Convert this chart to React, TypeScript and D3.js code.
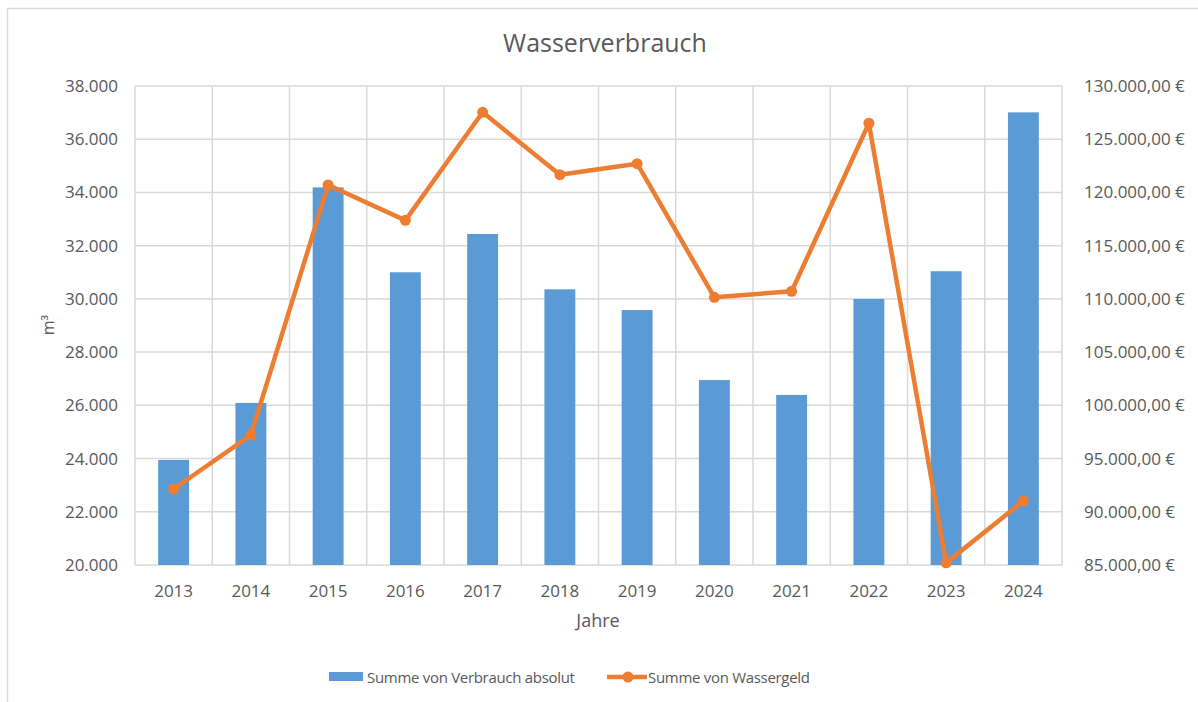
import React from "react";
import * as d3 from "d3";

// Jahre / Verbrauch (m³) / Wassergeld (€)
const years = ["2013", "2014", "2015", "2016", "2017", "2018", "2019", "2020", "2021", "2022", "2023", "2024"];
const verbrauch = [23950, 26090, 34190, 31000, 32440, 30360, 29580, 26950, 26390, 30000, 31040, 37010];
const wassergeld = [92140, 97210, 120700, 117380, 127530, 121670, 122700, 110150, 110710, 126500, 85200, 91010];
const leftTicks = [20000, 22000, 24000, 26000, 28000, 30000, 32000, 34000, 36000, 38000];
const rightTicks = [85000, 90000, 95000, 100000, 105000, 110000, 115000, 120000, 125000, 130000];

const W = 1198;
const H = 702;
const plot = { left: 135, right: 1062, top: 86, bottom: 565 };
const font = "'Open Sans', 'Noto Sans', sans-serif";
const txt = "#595959";
const grid = "#d9d9d9";
const blue = "#5b9bd5";
const orange = "#ed7d31";

const fmtLeft = (v: number) => d3.format(",.0f")(v).replace(/,/g, ".");
const fmtRight = (v: number) =>
  d3.format(",.2f")(v).replace(/,/g, "#").replace(".", ",").replace(/#/g, ".") + " €";

export default function App() {
  const x = d3.scaleBand<string>().domain(years).range([plot.left, plot.right]).paddingInner(0.6).paddingOuter(0.3);
  const xc = (d: string) => (x(d) as number) + x.bandwidth() / 2;
  const step = (plot.right - plot.left) / years.length;
  const yL = d3.scaleLinear().domain([20000, 38000]).range([plot.bottom, plot.top]);
  const yR = d3.scaleLinear().domain([85000, 130000]).range([plot.bottom, plot.top]);

  const line = d3
    .line<number>()
    .x((_, i) => xc(years[i]))
    .y((d) => yR(d));

  return (
    <svg width={W} height={H} style={{ position: "absolute", left: 0, top: 0, fontFamily: font }}>
      <rect x={0} y={0} width={W} height={H} fill="#fff" />
      <rect x={7.5} y={8.5} width={W + 10} height={H + 10} fill="none" stroke={grid} strokeWidth={1.5} />

      <text x={605} y={52} textAnchor="middle" fontSize={25} fill={txt}>
        Wasserverbrauch
      </text>

      {/* gridlines */}
      {leftTicks.map((t) => (
        <line key={"h" + t} x1={plot.left} x2={plot.right} y1={yL(t)} y2={yL(t)} stroke={grid} strokeWidth={1.5} />
      ))}
      {d3.range(years.length + 1).map((i) => (
        <line
          key={"v" + i}
          x1={plot.left + i * step}
          x2={plot.left + i * step}
          y1={plot.top}
          y2={plot.bottom}
          stroke={grid}
          strokeWidth={1.5}
        />
      ))}

      {/* bars */}
      {verbrauch.map((v, i) => (
        <rect
          key={years[i]}
          x={x(years[i])}
          y={yL(v)}
          width={x.bandwidth()}
          height={plot.bottom - yL(v)}
          fill={blue}
        />
      ))}

      {/* line */}
      <path d={line(wassergeld) || ""} fill="none" stroke={orange} strokeWidth={4.5} strokeLinejoin="round" />
      {wassergeld.map((v, i) => (
        <circle key={"c" + i} cx={xc(years[i])} cy={yR(v)} r={5.5} fill={orange} />
      ))}

      {/* axes labels */}
      {leftTicks.map((t) => (
        <text key={"l" + t} x={118} y={yL(t) + 6} textAnchor="end" fontSize={17} fill={txt}>
          {fmtLeft(t)}
        </text>
      ))}
      {rightTicks.map((t) => (
        <text key={"r" + t} x={1084} y={yR(t) + 6} textAnchor="start" fontSize={17} fill={txt}>
          {fmtRight(t)}
        </text>
      ))}
      {years.map((yr) => (
        <text key={"x" + yr} x={xc(yr)} y={597} textAnchor="middle" fontSize={17} fill={txt}>
          {yr}
        </text>
      ))}
      <text x={598} y={627} textAnchor="middle" fontSize={18} fill={txt}>
        Jahre
      </text>
      <text transform="translate(54,325) rotate(-90)" textAnchor="middle" fontSize={16} fill={txt}>
        m³
      </text>

      {/* legend */}
      <rect x={329} y={672} width={34} height={9} fill={blue} />
      <text x={367} y={683} fontSize={15} letterSpacing={-0.3} fill={txt}>
        Summe von Verbrauch absolut
      </text>
      <line x1={607} x2={647} y1={677} y2={677} stroke={orange} strokeWidth={4.5} />
      <circle cx={628} cy={677} r={5.5} fill={orange} />
      <text x={648} y={683} fontSize={15} letterSpacing={-0.3} fill={txt}>
        Summe von Wassergeld
      </text>
    </svg>
  );
}
